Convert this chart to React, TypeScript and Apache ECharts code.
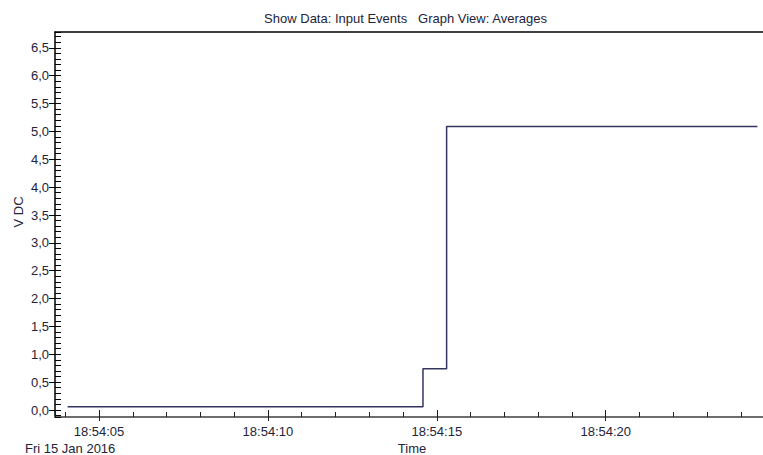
import React, { useEffect, useRef } from "react";
import * as echarts from "echarts";

// ---- texts ----
const TITLE = "Show Data: Input Events   Graph View: Averages";
const Y_NAME = "V DC";
const X_NAME = "Time";
const DATE_LABEL = "Fri 15 Jan 2016";
const TIME_PREFIX = "18:54:";

// ---- data: seconds after 18:54:00 and the averaged voltage ----
const eventSeconds = [4.07, 14.59, 15.29, 24.49];
const eventVolts = [0.06, 0.74, 5.09, 5.09];

// ---- tick labels ----
const xTickFirst = 5; // 18:54:05
const xTickLast = 20; // 18:54:20
const xTickStep = 5;
const yTickFirst = 0;
const yTickLast = 6.5;
const yTickStep = 0.5;

// ---- axis ranges ----
const X_MIN = 3.697;
const X_MAX = 25;
const Y_MIN = -0.125;
const Y_MAX = 6.785;

// ---- layout ----
const OUT_W = 763;
const H = 455;
const INNER_W = 790;
const PLOT_LEFT = 55;
const PLOT_TOP = 32;
const PLOT_BOTTOM = 417;
const PX_PER_SEC = 33.78;

const FONT = '"Liberation Sans", Arial, sans-serif';
const FS = 13;
const TEXT = "#23233a";
const LINE = "#34345f";

const pad2 = (v: number) => (v < 10 ? "0" : "") + Math.round(v);

export default function App() {
  const ref = useRef<HTMLDivElement>(null);

  useEffect(() => {
    if (!ref.current) return;
    const chart = echarts.init(ref.current, undefined, { renderer: "svg" });

    const plotH = PLOT_BOTTOM - PLOT_TOP;
    const pxPerVolt = plotH / (Y_MAX - Y_MIN);
    const g1Width = (X_MAX - X_MIN) * PX_PER_SEC;
    const g2Left = PLOT_LEFT + (xTickFirst - X_MIN) * PX_PER_SEC;
    const g2Width = (xTickLast - xTickFirst) * PX_PER_SEC;
    const g2Top = PLOT_TOP + (Y_MAX - yTickLast) * pxPerVolt;
    const g2Height = (yTickLast - yTickFirst) * pxPerVolt;
    const g2Bottom = g2Top + g2Height;

    const data = eventSeconds.map((t, i) => [t, eventVolts[i]]);

    chart.setOption({
      animation: false,
      textStyle: { fontFamily: FONT },
      grid: [
        { left: PLOT_LEFT, top: PLOT_TOP, width: g1Width, height: plotH },
        { left: g2Left, top: g2Top, width: g2Width, height: g2Height },
      ],
      xAxis: [
        {
          gridIndex: 0,
          type: "value",
          min: X_MIN,
          max: X_MAX,
          splitNumber: 4,
          position: "bottom",
          axisLine: { show: true, onZero: false, lineStyle: { color: "#6e6e6e", width: 2 } },
          axisTick: { show: true, inside: true, length: 7, lineStyle: { color: "#1e1e1e", width: 1 } },
          minorTick: { show: true, splitNumber: 5, length: 5, lineStyle: { color: "#1e1e1e", width: 1 } },
          axisLabel: { show: false },
          splitLine: { show: false },
          minorSplitLine: { show: false },
        },
        {
          gridIndex: 0,
          type: "value",
          min: X_MIN,
          max: X_MAX,
          position: "top",
          axisLine: { show: true, onZero: false, lineStyle: { color: "#000000", width: 1.5 } },
          axisTick: { show: false },
          axisLabel: { show: false },
          splitLine: { show: false },
        },
        {
          gridIndex: 1,
          type: "value",
          min: xTickFirst,
          max: xTickLast,
          interval: xTickStep,
          position: "bottom",
          offset: PLOT_BOTTOM - g2Bottom,
          axisLine: { show: false, onZero: false },
          axisTick: { show: true, inside: false, length: 4, lineStyle: { color: "#1e1e1e", width: 1 } },
          axisLabel: {
            show: true,
            margin: 8,
            color: TEXT,
            fontSize: FS,
            fontFamily: FONT,
            formatter: (v: number) => TIME_PREFIX + pad2(v),
          },
          splitLine: { show: false },
        },
      ],
      yAxis: [
        {
          gridIndex: 0,
          type: "value",
          min: Y_MIN,
          max: Y_MAX,
          splitNumber: 14,
          axisLine: { show: true, onZero: false, lineStyle: { color: "#000000", width: 1.5 } },
          axisTick: { show: true, inside: true, length: 6, lineStyle: { color: "#000000", width: 1 } },
          minorTick: { show: true, splitNumber: 5, length: 6, lineStyle: { color: "#000000", width: 1 } },
          axisLabel: { show: false },
          splitLine: { show: false },
          minorSplitLine: { show: false },
        },
        {
          gridIndex: 1,
          type: "value",
          min: yTickFirst,
          max: yTickLast,
          interval: yTickStep,
          offset: g2Left - PLOT_LEFT,
          axisLine: { show: false, onZero: false },
          axisTick: { show: true, inside: false, length: 6, lineStyle: { color: "#000000", width: 1 } },
          axisLabel: {
            show: true,
            margin: 6,
            color: TEXT,
            fontSize: FS,
            fontFamily: FONT,
            formatter: (v: number) => v.toFixed(1).replace(".", ","),
          },
          splitLine: { show: false },
        },
      ],
      series: [
        {
          type: "line",
          xAxisIndex: 0,
          yAxisIndex: 0,
          step: "end",
          symbol: "none",
          data,
          lineStyle: { color: LINE, width: 1.5 },
        },
      ],
      graphic: [
        {
          type: "text",
          x: 405.5,
          y: 18,
          style: { text: TITLE, fill: TEXT, fontSize: FS, fontFamily: FONT, align: "center", verticalAlign: "middle" },
        },
        {
          type: "text",
          x: 18,
          y: 212,
          rotation: Math.PI / 2,
          style: { text: Y_NAME, fill: TEXT, fontSize: FS, fontFamily: FONT, align: "center", verticalAlign: "middle" },
        },
        {
          type: "text",
          x: 412,
          y: 448,
          style: { text: X_NAME, fill: TEXT, fontSize: FS, fontFamily: FONT, align: "center", verticalAlign: "middle" },
        },
        {
          type: "text",
          x: 25,
          y: 448,
          style: { text: DATE_LABEL, fill: TEXT, fontSize: FS, fontFamily: FONT, align: "left", verticalAlign: "middle" },
        },
      ],
    });

    return () => chart.dispose();
  }, []);

  return (
    <div style={{ position: "fixed", left: 0, top: 0, width: OUT_W, height: H, overflow: "hidden", background: "#ffffff" }}>
      <div ref={ref} style={{ width: INNER_W, height: H }} />
    </div>
  );
}
